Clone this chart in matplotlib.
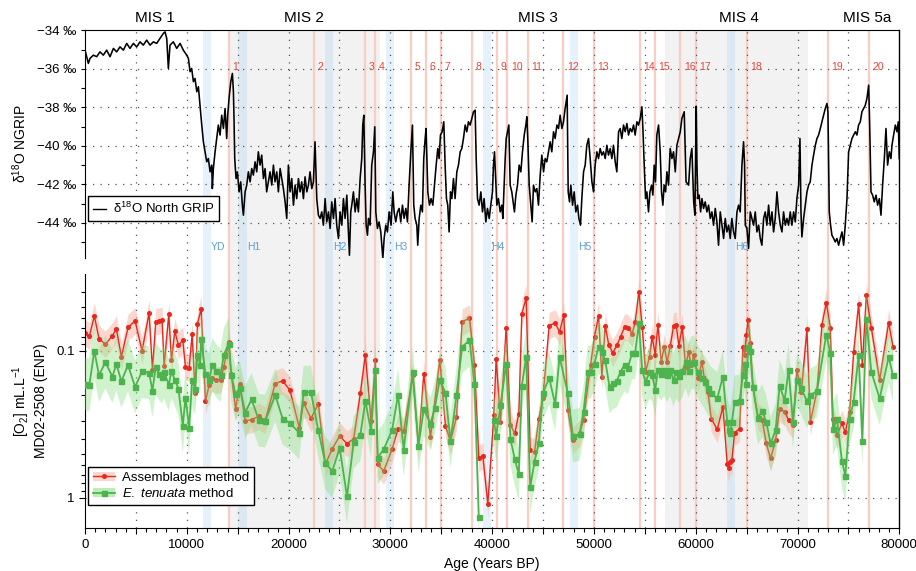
"""
Sauerstoff MD02-2508 (ENP) im Vergleich mit delta18O NGRIP, 0-80 ka BP
"""
import matplotlib
matplotlib.use("Agg")
import matplotlib.pyplot as plt
import numpy as np
from matplotlib.lines import Line2D
from matplotlib.patches import Patch
from matplotlib.ticker import FixedLocator, MultipleLocator, FuncFormatter, NullFormatter

plt.rcParams["font.family"] = ["Liberation Sans", "DejaVu Sans"]
plt.rcParams["mathtext.fontset"] = "custom"
plt.rcParams["mathtext.rm"] = "Liberation Sans"
plt.rcParams["mathtext.it"] = "Liberation Sans:italic"

# --- NGRIP delta18O (ka, permil) ---
ngrip_age_ka = [
    0.00, 0.16, 0.33, 0.49, 0.82, 1.15, 1.47, 1.80, 2.13, 2.46, 2.79, 3.11, 3.44, 3.77, 4.10, 4.42,
    4.75, 5.08, 5.41, 5.73, 6.06, 6.39, 6.72, 7.04, 7.37, 7.70, 7.86, 8.03, 8.19, 8.35, 8.68, 9.01,
    9.34, 9.66, 9.99,
    10.16, 10.32, 10.48, 10.65, 10.81, 10.98, 11.14, 11.30, 11.47, 11.63, 11.79, 11.96, 12.12, 12.29,
    12.45, 12.51, 12.61, 12.78, 12.94, 13.10, 13.27, 13.43, 13.60, 13.76, 13.92, 14.02, 14.15, 14.32,
    14.48, 14.58, 14.64, 14.71, 14.84, 14.97, 15.14, 15.30, 15.46, 15.56, 15.73, 15.89, 16.05, 16.22,
    16.38, 16.54, 16.71, 16.87, 17.03, 17.20, 17.36, 17.53, 17.69, 17.85, 18.02, 18.18, 18.35, 18.51,
    18.67, 18.84, 19.00, 19.17, 19.33, 19.49, 19.66, 19.82, 19.98,
    20.15, 20.31, 20.48, 20.64, 20.80, 20.97, 21.13, 21.29, 21.46, 21.62, 21.79, 21.95, 22.11, 22.28,
    22.44, 22.60, 22.77, 22.93, 23.10, 23.26, 23.42, 23.59, 23.75, 23.92, 24.08, 24.24, 24.41, 24.57,
    24.73, 24.90, 25.06, 25.23, 25.39, 25.55, 25.72, 25.88, 25.98, 26.11, 26.21, 26.37, 26.54, 26.70,
    26.86, 27.03, 27.19, 27.29, 27.39, 27.52, 27.62, 27.75, 27.85, 28.01, 28.17, 28.34, 28.47, 28.57,
    28.73, 28.89, 29.06, 29.16, 29.26, 29.39, 29.55, 29.71, 29.88, 30.07, 30.24, 30.37, 30.53, 30.70,
    30.86, 31.02, 31.19, 31.35, 31.52, 31.68, 31.84, 32.01, 32.17, 32.30, 32.43, 32.60, 32.69, 32.83,
    32.99, 33.15, 33.28, 33.42, 33.51, 33.68, 33.84, 34.00, 34.17, 34.33, 34.50, 34.66, 34.79, 34.92,
    35.09, 35.25, 35.38, 35.51, 35.64, 35.77, 35.91, 36.04, 36.20, 36.36, 36.53, 36.69, 36.86, 37.02,
    37.18, 37.35, 37.51, 37.67, 37.84, 38.00, 38.17, 38.33, 38.43, 38.56, 38.72, 38.89, 39.05, 39.21,
    39.38, 39.54, 39.71, 39.87, 40.03,
    40.13, 40.23, 40.33, 40.46, 40.62, 40.79, 40.95, 41.05, 41.18, 41.28, 41.38, 41.51, 41.64, 41.77,
    41.93, 42.10, 42.19, 42.33, 42.49, 42.65, 42.82, 42.98, 43.15, 43.31, 43.41, 43.51, 43.64, 43.80,
    43.93, 44.06, 44.23, 44.39, 44.55, 44.72, 44.88, 45.05, 45.21, 45.37, 45.54, 45.70, 45.86, 46.03,
    46.19, 46.36, 46.52, 46.68, 46.85, 47.01, 47.17, 47.27, 47.37, 47.47, 47.60, 47.73, 47.90, 48.06,
    48.22, 48.39, 48.52, 48.68, 48.81, 48.98, 49.14, 49.30, 49.47, 49.63, 49.80, 49.96, 50.12, 50.29,
    50.45, 50.61, 50.78, 50.94, 51.11, 51.27, 51.43, 51.60, 51.76, 51.92, 52.09, 52.25, 52.42, 52.58,
    52.74, 52.91, 53.07, 53.24, 53.40, 53.56, 53.73, 53.89, 54.05, 54.22, 54.38, 54.55, 54.71, 54.81,
    54.94, 55.07, 55.20, 55.36, 55.50, 55.66, 55.79, 55.92, 56.05, 56.18, 56.35, 56.51, 56.64, 56.77,
    56.90, 57.04, 57.17, 57.33, 57.49, 57.66, 57.82, 57.99, 58.15, 58.31, 58.48, 58.64, 58.87, 59.05,
    59.30, 59.46, 59.62, 59.80, 59.92, 60.05, 60.12, 60.21,
    60.34, 60.48, 60.61, 60.77, 60.93, 61.10, 61.26, 61.43, 61.59, 61.75, 61.92, 62.08, 62.24, 62.41,
    62.57, 62.74, 62.90, 63.06, 63.23, 63.39, 63.55, 63.72, 63.88, 64.05, 64.21, 64.37, 64.54, 64.70,
    64.80, 64.87, 65.03, 65.19, 65.36, 65.52, 65.68, 65.85, 66.01, 66.18, 66.34, 66.50, 66.67, 66.83,
    66.99, 67.16, 67.32, 67.49, 67.65, 67.81, 67.98, 68.14, 68.31, 68.47, 68.63, 68.80, 68.96, 69.12,
    69.29, 69.45, 69.62, 69.78, 69.94, 70.11, 70.24, 70.34, 70.43, 70.60, 70.76, 70.93, 71.09, 71.25,
    71.42, 71.58, 71.75, 71.91, 72.07, 72.24, 72.40, 72.56, 72.73, 72.89, 72.99, 73.12, 73.25, 73.38,
    73.55, 73.71, 73.87, 74.04, 74.20, 74.37, 74.53, 74.69, 74.86, 75.02, 75.18, 75.35, 75.51, 75.68,
    75.84, 76.00, 76.17, 76.33, 76.50, 76.66, 76.82, 76.99, 77.09, 77.22, 77.38, 77.54, 77.71, 77.87,
    78.04, 78.20, 78.36, 78.53, 78.69, 78.85, 79.02, 79.18, 79.28, 79.44, 79.61, 79.77, 79.90, 80.00,
]
ngrip_d18o = [
    -35.03, -35.37, -35.72, -35.46, -35.29, -35.37, -35.12, -35.29, -35.03, -35.37, -34.94, -35.12,
    -34.86, -35.03, -34.68, -34.94, -34.68, -34.86, -34.60, -34.77, -34.51, -34.77, -34.60, -34.68,
    -34.42, -34.16, -34.08, -34.42, -35.98, -34.77, -34.60, -34.94, -34.68, -35.03, -35.29,
    -35.46, -36.15, -35.98, -36.67, -36.50, -37.19, -36.93, -37.89, -38.92, -39.79, -40.31, -40.83,
    -40.66, -41.35, -41.00, -42.22, -41.18, -40.31, -39.62, -38.92, -39.44, -38.41, -39.10, -38.06,
    -39.62, -38.41, -37.54, -36.67, -36.24, -37.19, -38.58, -40.66, -41.70, -41.35, -42.39, -41.87,
    -43.08, -43.60, -42.39, -42.04, -41.35, -41.87, -41.18, -41.52, -40.83, -41.35, -40.31, -41.00,
    -40.48, -41.70, -41.18, -42.39, -41.87, -41.35, -42.04, -41.00, -41.87, -41.35, -42.39, -41.18,
    -41.70, -42.22, -42.91, -43.77, -41.00,
    -42.39, -41.70, -43.08, -42.04, -42.74, -41.70, -42.39, -41.87, -42.74, -41.61, -42.39, -42.04,
    -41.35, -42.22, -41.87, -39.79, -42.74, -43.60, -43.77, -43.43, -44.12, -42.74, -43.95, -43.43,
    -44.29, -42.91, -43.77, -42.74, -44.12, -44.81, -43.43, -44.12, -42.74, -43.77, -42.56, -44.47,
    -45.68, -43.43, -43.08, -42.39, -43.43, -42.74, -43.43, -41.70, -40.66, -38.92, -38.41, -42.04,
    -44.12, -44.64, -43.77, -44.12, -41.00, -40.31, -39.01, -43.43, -44.29, -43.95, -44.47, -45.16,
    -45.85, -44.81, -44.12, -44.47, -43.43, -44.12, -42.39, -43.43, -43.95, -43.43, -43.25, -43.95,
    -43.08, -43.77, -43.25, -43.95, -42.04, -40.31, -38.92, -43.08, -43.77, -44.12, -45.16, -43.77,
    -43.08, -43.43, -40.66, -39.62, -39.10, -42.39, -43.08, -42.74, -43.08, -42.04, -41.00, -40.14,
    -40.66, -39.44, -39.27, -38.75, -41.00, -42.74, -43.08, -44.47, -42.39, -42.74, -41.70, -42.74,
    -41.35, -41.00, -40.31, -40.14, -39.62, -38.92, -39.27, -38.75, -38.92, -38.58, -38.23, -38.15,
    -40.66, -42.74, -43.08, -42.39, -43.43, -42.74, -43.95, -43.25, -43.77, -43.08, -42.39,
    -41.00, -40.31, -41.52, -43.08, -42.74, -43.43, -43.08, -43.77, -42.04, -40.66, -39.62, -39.27,
    -38.92, -42.04, -42.39, -43.08, -43.43, -42.56, -42.04, -41.00, -41.35, -40.31, -39.44, -38.92,
    -38.49, -39.79, -42.04, -43.08, -43.95, -42.04, -42.39, -42.22, -43.08, -41.52, -40.48, -41.35,
    -40.66, -40.83, -40.31, -39.79, -40.31, -39.27, -39.62, -38.92, -39.10, -38.41, -39.10, -38.75,
    -38.06, -37.71, -37.37, -42.39, -42.91, -42.04, -43.08, -42.39, -43.43, -43.08, -43.77, -44.12,
    -42.74, -41.35, -41.00, -39.97, -39.62, -40.66, -41.87, -42.39, -41.00, -40.31, -40.66, -40.14,
    -40.48, -40.31, -40.66, -39.97, -40.48, -40.14, -40.66, -39.97, -40.83, -41.35, -39.27, -39.10,
    -39.62, -38.92, -39.27, -38.84, -39.44, -39.10, -39.27, -38.92, -39.44, -38.75, -38.92, -38.58,
    -37.97, -39.10, -41.00, -42.74, -42.39, -43.43, -42.39, -42.04, -42.56, -41.00, -41.87, -39.44,
    -38.92, -40.31, -42.39, -43.08, -42.04, -42.39, -41.35, -42.04, -40.14, -40.66, -40.31, -41.35,
    -39.97, -39.62, -39.27, -38.58, -38.23, -41.87, -42.04, -40.66, -40.14, -42.90, -43.60, -37.94,
    -41.00, -42.74,
    -42.56, -43.43, -42.74, -43.25, -42.91, -43.43, -43.08, -43.77, -43.43, -44.12, -43.25, -43.95,
    -45.16, -43.43, -44.12, -44.81, -43.77, -44.47, -44.12, -44.81, -43.77, -44.47, -44.81, -43.43,
    -43.08, -43.43, -41.00, -39.79, -41.00, -44.12, -44.29, -45.33, -43.43, -43.77, -44.12, -43.43,
    -44.47, -44.12, -44.81, -45.16, -43.77, -43.43, -44.12, -43.08, -44.12, -43.43, -44.47, -43.77,
    -42.39, -43.43, -44.12, -44.47, -43.43, -44.12, -43.77, -44.12, -43.43, -44.12, -43.43, -43.95,
    -42.74, -42.04, -39.62, -43.43, -44.73, -43.77, -43.08, -42.39, -42.04, -41.87, -41.00, -40.48,
    -39.97, -39.62, -39.44, -39.10, -38.75, -38.41, -38.06, -37.80, -38.23, -43.43, -44.12, -44.64,
    -44.81, -44.99, -44.81, -45.16, -44.81, -44.47, -45.16, -44.12, -42.74, -40.31, -39.97, -39.62,
    -39.44, -39.27, -39.44, -38.92, -38.75, -38.23, -38.06, -37.89, -37.54, -36.85, -38.92, -42.39,
    -42.56, -42.91, -42.56, -43.08, -42.74, -43.60, -42.04, -40.66, -39.10, -41.00, -40.31, -40.66,
    -39.97, -39.44, -38.92, -39.27, -38.75, -40.66,
]

# --- [O2] MD02-2508, Assemblages method (Jahre BP, mL/L) ---
assemb_age = [
    0, 426, 918, 1377, 2000, 2689, 3082, 3574, 4230, 4919, 5607, 6296, 6624, 6951, 7247, 7574,
    7771, 8230, 8493, 8821, 9181, 9608, 9870, 10230, 10526, 10821, 11050, 11411, 11837, 12198,
    12493, 12919, 13313, 13641, 14133, 14362, 14788, 15215, 15739, 16362, 17084, 17707, 18690,
    19412, 20133, 21051, 21477, 22199, 22920, 23609, 24298, 25019, 25740, 26396, 27052, 27544,
    28101, 28527, 28757, 29347, 30167, 30757, 31314, 32200, 32757, 33282, 33938, 34856, 35413,
    35905, 36495, 37052, 37772, 38264, 38690, 39083, 39574, 40164, 40393, 40819, 41376, 41802,
    42228, 42621, 42916, 43342, 43735, 44161, 44587, 44980, 45602, 46192, 46618, 47044, 47437,
    47929, 48583, 48977, 49665, 50057, 50451, 50778, 51106, 51466, 51859, 52252, 52613, 53006,
    53333, 53759, 54054, 54414, 54742, 55070, 55463, 55725, 56020, 56282, 56610, 56904, 57199,
    57494, 57822, 58084, 58346, 58673, 59001, 59296, 59558, 59820, 60213, 60606, 60868, 61196,
    61523, 62113, 62670, 63096, 63260, 63391, 63555, 63817, 64308, 64636, 64832, 64963, 65160,
    65356, 65618, 66110, 66536, 66930, 67356, 67847, 68240, 68732, 69125, 69551, 69944, 70370,
    70927, 71255, 71910, 72402, 72828, 73221, 73483, 73876, 74368, 74696, 75122, 75515, 76007,
    76367, 76760, 77252, 78071, 78955, 79381,
]
assemb_o2 = [
    0.0750, 0.0794, 0.0580, 0.0824, 0.0901, 0.0790, 0.0708, 0.110, 0.0693, 0.0624, 0.100, 0.0551,
    0.1355, 0.0631, 0.0628, 0.0618, 0.1265, 0.0565, 0.116, 0.0735, 0.0915, 0.0846, 0.129, 0.131,
    0.0770, 0.195, 0.0652, 0.0520, 0.220, 0.171, 0.154, 0.158, 0.157, 0.128, 0.0868, 0.143, 0.247,
    0.169, 0.300, 0.294, 0.279, 0.297, 0.167, 0.160, 0.185, 0.333, 0.226, 0.288, 0.230, 0.593,
    0.464, 0.380, 0.429, 0.396, 0.195, 0.106, 0.300, 0.116, 0.593, 0.658, 0.468, 0.339, 0.351,
    0.147, 0.447, 0.143, 0.388, 0.115, 0.324, 0.413, 0.282, 0.0636, 0.0597, 0.125, 0.540, 0.518,
    1.104, 0.274, 0.113, 0.304, 0.0698, 0.320, 0.365, 0.267, 0.0557, 0.0436, 0.474, 0.492, 0.289,
    0.211, 0.0673, 0.0645, 0.0743, 0.0572, 0.254, 0.406, 0.365, 0.296, 0.125, 0.0804, 0.0578,
    0.150, 0.0676, 0.0915, 0.103, 0.0915, 0.0804, 0.0687, 0.0694, 0.0762, 0.0636, 0.0397, 0.0687,
    0.139, 0.110, 0.0804, 0.106, 0.0662, 0.119, 0.0939, 0.119, 0.0930, 0.0679, 0.0668, 0.0925,
    0.0687, 0.128, 0.102, 0.125, 0.107, 0.154, 0.119, 0.158, 0.190, 0.289, 0.343, 0.240, 0.590,
    0.625, 0.569, 0.554, 0.361, 0.338, 0.0939, 0.106, 0.0782, 0.0618, 0.0878, 0.176, 0.281, 0.296,
    0.427, 0.540, 0.406, 0.247, 0.260, 0.296, 0.320, 0.135, 0.190, 0.0713, 0.307, 0.188, 0.0662,
    0.0471, 0.0698, 0.289, 0.375, 0.312, 0.359, 0.260, 0.102, 0.0477, 0.125, 0.0418, 0.0698,
    0.158, 0.0641, 0.0939,
]

# --- [O2] MD02-2508, E. tenuata method (Luecke bei ~39.4 ka) ---
etenu_age = [
    0, 426, 918, 1377, 2000, 2689, 3082, 3574, 4230, 4919, 5607, 6296, 6624, 6951, 7247, 7574,
    7771, 8230, 8493, 8821, 9181, 9608, 9870, 10230, 10526, 10821, 11050, 11312, 11411, 11837,
    12198, 12493, 12919, 13313, 13641, 14133, 14362, 14788, 15215, 15739, 16362, 17084, 17707,
    18690, 19412, 20133, 21051, 21477, 22199, 22920, 23609, 24298, 25019, 25740, 26396, 27052,
    27544, 28101, 28527, 28757, 29347, 30167, 30757, 31314, 32200, 32757, 33282, 33938, 34364,
    34856, 35413, 35905, 36495, 37052, 37772, 38264, 38690, 39400, 40164, 40393, 40819, 41376,
    41802, 42228, 42621, 42916, 43342, 43735, 44161, 44587, 44980, 45602, 46192, 46618, 47437,
    47929, 48583, 48977, 49403, 49665, 50057, 50451, 50778, 51106, 51532, 51859, 52252, 52613,
    53006, 53333, 53759, 54054, 54414, 54742, 55070, 55463, 55725, 56020, 56282, 56610, 56904,
    57199, 57494, 57822, 58084, 58346, 58673, 59001, 59296, 59558, 59820, 60213, 60606, 60868,
    61196, 61523, 62113, 62670, 63096, 63260, 63391, 63555, 63817, 64308, 64636, 64832, 64963,
    65160, 65356, 65618, 66110, 66536, 66930, 67356, 67847, 68240, 68732, 69125, 69551, 69944,
    70370, 70927, 71255, 71910, 72828, 73221, 73483, 73876, 74368, 74696, 75122, 75515, 76007,
    76367, 76760, 77252, 78071, 78955, 79381,
]
etenu_o2 = [
    0.167, 0.171, 0.100, 0.147, 0.119, 0.150, 0.123, 0.161, 0.125, 0.176, 0.138, 0.141, 0.187,
    0.129, 0.143, 0.150, 0.139, 0.170, 0.138, 0.157, 0.181, 0.324, 0.208, 0.333, 0.158, 0.181,
    0.106, 0.124, 0.0833, 0.144, 0.158, 0.124, 0.137, 0.147, 0.106, 0.0891, 0.145, 0.197, 0.178,
    0.263, 0.214, 0.297, 0.300, 0.200, 0.289, 0.310, 0.362, 0.191, 0.191, 0.348, 0.581, 0.658,
    0.458, 0.980, 0.417, 0.372, 0.220, 0.351, 0.135, 0.534, 0.468, 0.348, 0.199, 0.471, 0.139,
    0.442, 0.250, 0.313, 0.245, 0.157, 0.193, 0.413, 0.200, 0.0939, 0.0846, 0.167, 1.36, np.nan,
    0.296, 0.379, 0.235, 0.122, 0.399, 0.548, 0.693, 0.173, 0.110, 0.851, 0.569, 0.423, 0.195,
    0.153, 0.231, 0.110, 0.195, 0.379, 0.371, 0.260, 0.139, 0.140, 0.122, 0.0939, 0.102, 0.116,
    0.176, 0.165, 0.160, 0.139, 0.124, 0.130, 0.103, 0.103, 0.0645, 0.135, 0.164, 0.139, 0.147,
    0.185, 0.135, 0.144, 0.134, 0.147, 0.135, 0.158, 0.139, 0.149, 0.137, 0.119, 0.137, 0.121,
    0.119, 0.139, 0.154, 0.164, 0.179, 0.195, 0.211, 0.150, 0.304, 0.347, 0.365, 0.304, 0.222,
    0.220, 0.147, 0.122, 0.167, 0.0939, 0.100, 0.176, 0.286, 0.256, 0.304, 0.427, 0.347, 0.173,
    0.217, 0.135, 0.304, 0.157, 0.180, 0.220, 0.200, 0.188, 0.0774, 0.103, 0.338, 0.293, 0.564,
    0.708, 0.289, 0.222, 0.106, 0.409, 0.0610, 0.139, 0.211, 0.110, 0.147,
]

# Unsicherheit als halbe Bandbreite in log10-Einheiten
assemb_err_log = 0.09
etenu_err_log = 0.18

# --- Ereignisse ---
mis_names = ["MIS 1", "MIS 2", "MIS 3", "MIS 4", "MIS 5a"]
mis_label_age = [6850, 21500, 44450, 64275, 76820]
glacial_spans = [(14000, 29000), (57000, 71000)]
heinrich_names = ["YD", "H1", "H2", "H3", "H4", "H5", "H6"]
heinrich_spans = [(11600, 12400), (15050, 15900), (23600, 24400), (29600, 30400),
                  (39100, 39900), (47600, 48400), (63100, 63900)]
do_names = [str(i) for i in range(1, 21)]
do_age = [14150, 22500, 27500, 28500, 32000, 33500, 35000, 38000, 40500, 41500,
          43500, 47000, 50000, 54500, 56000, 58500, 60000, 65000, 73000, 77000]

RED = "#e8281c"
RED_BAND = "#f7b3a0"
GREEN = "#4db34d"
GREEN_BAND = "#84e07c"
DOT = (0, (1, 5))

W, H = 916, 571
X0, X1 = 85, 899.3
Y_TOP, Y_BOT = 30.3, 527.5


def fig_rect(top_px, bot_px):
    return [X0 / W, 1 - bot_px / H, (X1 - X0) / W, (bot_px - top_px) / H]


fig = plt.figure(figsize=(W / 100, H / 100), dpi=100)

# Hintergrund: Baender, DO-Linien, vertikale Gitterlinien ueber beide Panels
bg = fig.add_axes(fig_rect(Y_TOP, Y_BOT), zorder=0)
bg.set_xlim(0, 80000)
bg.set_ylim(0, 1)
bg.set_xticks([])
bg.set_yticks([])
for side in ["left", "top", "bottom"]:
    bg.spines[side].set_visible(False)
bg.spines["right"].set_linewidth(1.0)
for a, b in glacial_spans:
    bg.axvspan(a, b, color="#f2f2f2", lw=0)
for a, b in heinrich_spans:
    bg.axvspan(a, b, color="#8cc8f0", alpha=0.22, lw=0)
for x in do_age:
    bg.axvline(x, color="#f9cdc2", lw=1.6)
for x in range(5000, 80000, 5000):
    bg.axvline(x, color="#555555", lw=0.9, ls=DOT)

# --- oberes Panel: NGRIP ---
ax1 = fig.add_axes(fig_rect(Y_TOP, 258.3), zorder=1)
ax1.patch.set_alpha(0)
ax1.set_xlim(0, 80000)
ax1.set_ylim(-45.84, -34)
for side in ["right", "bottom"]:
    ax1.spines[side].set_visible(False)
ax1.set_xticks([])
ax1.yaxis.set_major_locator(FixedLocator([-44, -42, -40, -38, -36, -34]))
ax1.yaxis.set_minor_locator(FixedLocator([-45, -43, -41, -39, -37, -35]))
ax1.yaxis.set_major_formatter(FuncFormatter(lambda v, _: "\u2212%d \u2030" % abs(round(v))))
ax1.tick_params(axis="y", which="both", direction="out", length=3, width=0.8, labelsize=9.5)
for y in [-44, -42, -40, -38, -36]:
    ax1.axhline(y, color="#555555", lw=0.9, ls=DOT, zorder=0.5)

ax1.plot(np.array(ngrip_age_ka) * 1000, ngrip_d18o, color="black", lw=1.15, zorder=3)

for name, x in zip(mis_names, mis_label_age):
    ax1.text(x, 1.056, name, transform=ax1.get_xaxis_transform(), ha="center",
             va="center", fontsize=11, clip_on=False)
for name, x in zip(do_names, do_age):
    ax1.text(x + 350, -35.9, name, color="#e8453c", fontsize=7.5, ha="left", va="center")
for name, (a, b) in zip(heinrich_names, heinrich_spans):
    ax1.text(b, -45.26, name, color="#5b9fd4", fontsize=7.5, ha="left", va="center")

ax1.legend([Line2D([], [], color="black", lw=1)], [r"δ$^{18}$O North GRIP"],
           loc="lower left", bbox_to_anchor=(0.004, 0.164), borderaxespad=0,
           fancybox=False, edgecolor="black", framealpha=1, fontsize=9.5,
           handlelength=1.0, handletextpad=0.5, borderpad=0.35)

# --- unteres Panel: [O2] ---
ax2 = fig.add_axes(fig_rect(274.3, Y_BOT), zorder=1)
ax2.patch.set_alpha(0)
ax2.set_yscale("log")
ax2.set_xlim(0, 80000)
ax2.set_ylim(1.595, 0.0301)
for side in ["right", "top"]:
    ax2.spines[side].set_visible(False)
ax2.xaxis.set_major_locator(MultipleLocator(5000))
ax2.xaxis.set_minor_locator(MultipleLocator(1000))
ax2.xaxis.set_major_formatter(
    FuncFormatter(lambda v, _: "%d" % v if round(v) % 10000 == 0 else ""))
ax2.yaxis.set_major_locator(FixedLocator([0.1, 1]))
ax2.yaxis.set_minor_locator(FixedLocator([0.03, 0.04, 0.05, 0.06, 0.07, 0.08, 0.09,
                                          0.2, 0.3, 0.4, 0.5, 0.6, 0.7, 0.8, 0.9]))
ax2.yaxis.set_major_formatter(FuncFormatter(lambda v, _: "%g" % v))
ax2.yaxis.set_minor_formatter(NullFormatter())
ax2.tick_params(axis="x", which="major", direction="out", length=4.5, width=0.8,
                labelsize=9.5, pad=4)
ax2.tick_params(axis="x", which="minor", direction="out", length=3, width=0.8)
ax2.tick_params(axis="y", which="major", direction="out", length=4, width=0.8, labelsize=9.5)
ax2.tick_params(axis="y", which="minor", direction="out", length=3, width=0.8)
for y in [0.1, 1]:
    ax2.axhline(y, color="#555555", lw=0.9, ls=DOT, zorder=0.5)

a_age = np.array(assemb_age)
a_o2 = np.array(assemb_o2)
e_age = np.array(etenu_age)
e_o2 = np.array(etenu_o2)
fa = 10 ** assemb_err_log
fe = 10 ** etenu_err_log

ax2.fill_between(a_age, a_o2 / fa, a_o2 * fa, color=RED_BAND, alpha=0.5, lw=0, zorder=1)
ax2.plot(a_age, a_o2, color=RED, lw=1.0, marker="o", ms=2.6, zorder=2)
ax2.fill_between(e_age, e_o2 / fe, e_o2 * fe, color=GREEN_BAND, alpha=0.38, lw=0, zorder=3)
ax2.plot(e_age, e_o2, color=GREEN, lw=1.3, marker="s", ms=3.6, zorder=4)

h_red = (Patch(facecolor=RED_BAND, alpha=0.5, lw=0),
         Line2D([], [], color=RED, lw=1.0, marker="o", ms=2.6))
h_green = (Patch(facecolor=GREEN_BAND, alpha=0.55, lw=0),
           Line2D([], [], color=GREEN, lw=1.3, marker="s", ms=3.6))
ax2.legend([h_red, h_green], ["Assemblages method", r"$\mathit{E.\ tenuata}$ method"],
           loc="lower left", bbox_to_anchor=(0.004, 0.089), borderaxespad=0,
           fancybox=False, edgecolor="black", framealpha=1, fontsize=9.5,
           handlelength=1.7, handletextpad=0.5, borderpad=0.35, labelspacing=0.25)

# Achsenbeschriftungen
fig.text(20 / W, 1 - 144 / H, r"δ$^{18}$O NGRIP", rotation=90, ha="center", va="center",
         fontsize=10)
fig.text(29 / W, 1 - 401 / H, "[O$_2$] mL.L$^{-1}$\nMD02-2508 (ENP)", rotation=90,
         ha="center", va="center", fontsize=10, multialignment="center")
fig.text(492 / W, 1 - 564 / H, "Age (Years BP)", ha="center", va="center", fontsize=10)

fig.savefig("out.png", dpi=100)
